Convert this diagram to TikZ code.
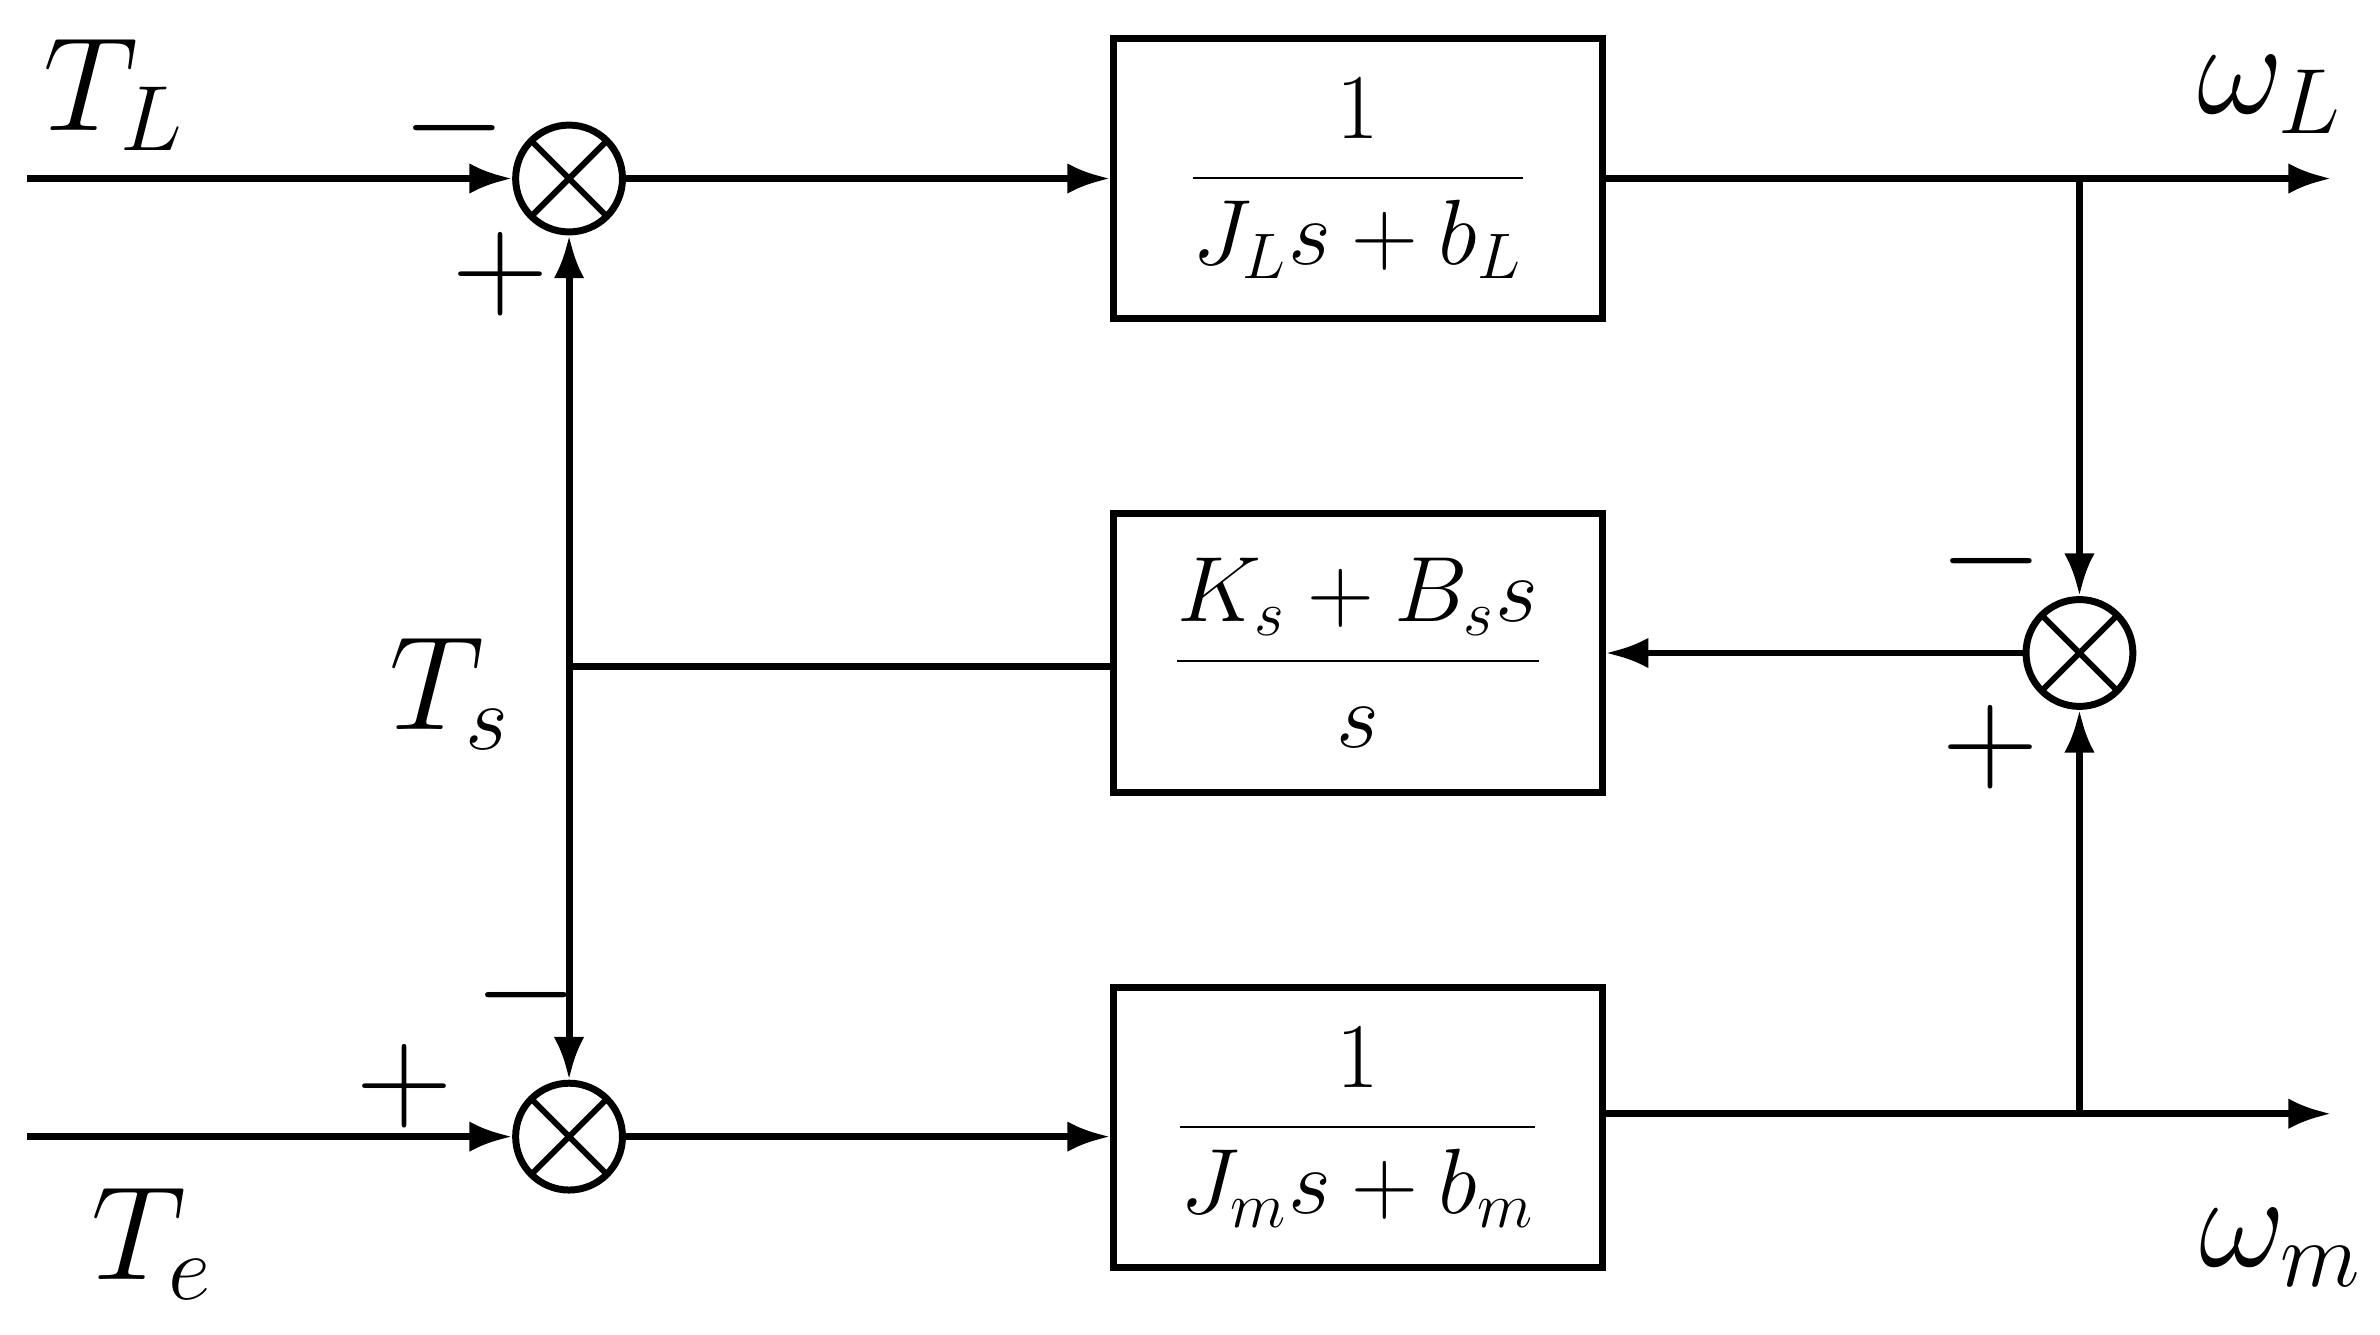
\documentclass[tikz,border=0pt]{standalone}
\usetikzlibrary{arrows.meta}
\begin{document}
\begin{tikzpicture}[x=0.01cm,y=-0.01cm,
  sum/.style={circle,draw,line width=1.3pt,minimum size=0.7cm,inner sep=0pt,path picture={\draw[line width=1.1pt] (path picture bounding box.north west)--(path picture bounding box.south east) (path picture bounding box.north east)--(path picture bounding box.south west);}},
  blk/.style={draw,line width=1.3pt,minimum width=3.2cm,minimum height=1.83cm,inner sep=0pt,font=\fontsize{17}{20}\selectfont},
  lbl/.style={font=\fontsize{23}{26}\selectfont},
  sgn/.style={font=\fontsize{24}{26}\selectfont},
  wire/.style={line width=1.3pt},
  arr/.style={wire,-{Latex[length=0.28cm,width=0.2cm]}}]
\useasboundingbox (0,0) rectangle (1560,875);
\node[sum] (s1) at (373,117) {};
\node[sum] (s2) at (373,745) {};
\node[sum] (s3) at (1363,428) {};
\node[blk] (b1) at (890,117) {$\displaystyle\frac{1}{J_L s+b_L}$};
\node[blk] (b2) at (890,428) {$\displaystyle\frac{K_s+B_s s}{s}$};
\node[blk] (b3) at (890,739) {$\displaystyle\frac{1}{J_m s+b_m}$};
\coordinate (tl) at (18,117);
\coordinate (te) at (18,745);
\coordinate (wl) at (1528,117);
\coordinate (wm) at (1528,730);
\coordinate (j1) at (1363,117);
\coordinate (j2) at (1363,730);
\coordinate (jt) at (373,437);
\draw[arr] (tl)--(s1);
\draw[arr] (te)--(s2);
\draw[arr] (s1)--(b1);
\draw[arr] (s2)--(b3.west|-s2);
\draw[arr] (b1)--(wl);
\draw[arr] (b3.east|-wm)--(wm);
\draw[arr] (j1)--(s3);
\draw[arr] (j2)--(s3);
\draw[arr] (s3)--(b2.east|-s3);
\draw[wire] (b2.west|-jt)--(jt);
\draw[arr] (jt)--(s1);
\draw[arr] (jt)--(s2);
\node[lbl] (ltl) at (75,62) {$T_L$};
\node[lbl] (lts) at (295,455) {$T_s$};
\node[lbl] (lte) at (100,815) {$T_e$};
\node[lbl] (lwl) at (1488,62) {$\omega_L$};
\node[lbl] (lwm) at (1495,818) {$\omega_m$};
\node[sgn] at (298,84) {$-$};
\node[sgn] at (328,180) {$+$};
\node[sgn] at (345,652) {$-$};
\node[sgn] at (265,712) {$+$};
\node[sgn] at (1305,368) {$-$};
\node[sgn] at (1305,490) {$+$};
\end{tikzpicture}
\end{document}
